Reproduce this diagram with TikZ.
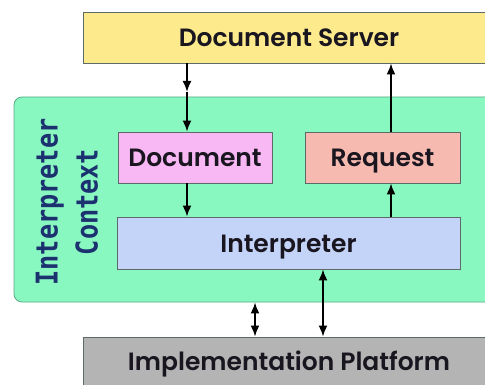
\documentclass[tikz,border=0pt]{standalone}
\usepackage{fontspec}
\usetikzlibrary{arrows.meta}
\newfontfamily\boxfont{Poppins SemiBold}
\newfontfamily\ctxfont{DejaVu Sans Mono Bold}[FakeStretch=0.84]

\definecolor{srvfill}{HTML}{FCEA8C}
\definecolor{ctxfill}{HTML}{88F8C0}
\definecolor{ctxline}{HTML}{5AAA88}
\definecolor{docfill}{HTML}{F8B8F4}
\definecolor{reqfill}{HTML}{F6BAB0}
\definecolor{intfill}{HTML}{C4D4F8}
\definecolor{platfill}{HTML}{B4B4B4}
\definecolor{edge}{HTML}{5C6A68}
\definecolor{labelink}{HTML}{1A1620}
\definecolor{ctxink}{HTML}{1C3270}

\tikzset{
  box/.style={draw=edge, line width=0.8pt, inner sep=0pt,
    text height=18pt, text depth=0pt,
    font=\boxfont\fontsize{25}{28}\selectfont, text=labelink},
  arr/.style={line width=1.9pt, -{Latex[length=11pt,width=9pt]}},
  biarr/.style={line width=1.9pt, {Latex[length=11pt,width=9pt]}-{Latex[length=11pt,width=9pt]}},
}

\begin{document}
\begin{tikzpicture}[x=1pt, y=-1pt]
  \useasboundingbox (0,0) rectangle (485,385);
  \clip (0,0) rectangle (485,385);

  % Interpreter context panel
  \node[draw=ctxline, fill=ctxfill, line width=0.8pt, rounded corners=8pt,
        minimum width=500pt, minimum height=205pt] (ctx) at (264,199.5) {};
  \node[rotate=90, align=center, text=ctxink,
        font=\ctxfont\fontsize{30}{40}\selectfont] (ctxlabel) at (67,202)
        {Interpreter\\Context};

  % Boxes
  \node[box, fill=srvfill, minimum width=412pt, minimum height=51pt] (srv) at (289,37.5) {Document Server};
  \node[box, fill=docfill, minimum width=154pt, minimum height=51pt] (doc) at (195,157.5) {Document};
  \node[box, fill=reqfill, minimum width=155pt, minimum height=51pt] (req) at (382.5,157.5) {Request};
  \node[box, fill=intfill, minimum width=343pt, minimum height=52pt] (int) at (288.5,243) {Interpreter};
  \node[box, fill=platfill, minimum width=412pt, minimum height=62pt] (plat) at (289,368) {};
  \node[box, draw=none] (platlabel) at (289,361.5) {Implementation Platform};

  % Column positions of the connectors
  \coordinate (cl) at (187,0);
  \coordinate (cr) at (391,0);
  \coordinate (cs) at (255,0);
  \coordinate (cp) at (323,0);
  \coordinate (m1) at (187,92);

  % Connectors
  \draw[arr] (srv.south -| cl) -- (m1);
  \draw[arr] (m1) -- (doc.north -| cl);
  \draw[arr] (req.north -| cr) -- (srv.south -| cr);
  \draw[arr] (doc.south -| cl) -- (int.north -| cl);
  \draw[arr] (int.north -| cr) -- (req.south -| cr);
  \draw[biarr] (int.south -| cp) -- (plat.north -| cp);
  \draw[biarr] (ctx.south -| cs) -- (plat.north -| cs);
\end{tikzpicture}
\end{document}
